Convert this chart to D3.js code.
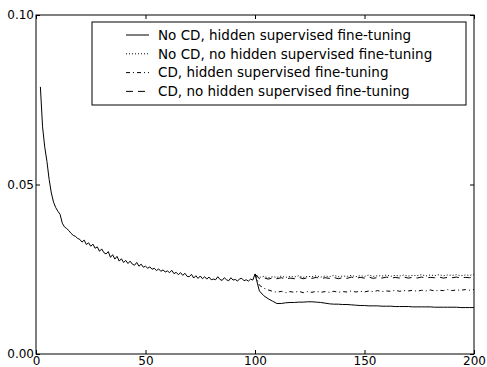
<!DOCTYPE html>
<html>
<head>
<meta charset="utf-8">
<script src="https://cdn.jsdelivr.net/npm/d3@7"></script>
<style>
    body { margin: 0; background: #fff; }
    svg text { font-family: 'DejaVu Sans', sans-serif; fill: #000; }
</style>
</head>
<body>
<svg id="chart"></svg>
<script>
'use strict';

/*
    Data
*/

// Shared curve, epochs 2..100 (before the runs split)
const SHARED_START = 2;
const SHARED_VALUES = [
    0.0788, 0.0670, 0.0610, 0.0568, 0.0515, 0.0475, 0.0448, 0.0432, 0.0421, 0.0412,
    0.0386, 0.0375, 0.0370, 0.0364, 0.0356, 0.0350, 0.0347, 0.0341, 0.0338, 0.0330,
    0.0336, 0.0323, 0.0328, 0.0318, 0.0324, 0.0312, 0.0316, 0.0303, 0.0310, 0.0299,
    0.0295, 0.0302, 0.0285, 0.0293, 0.0280, 0.0288, 0.0274, 0.0281, 0.0270, 0.0276,
    0.0267, 0.0274, 0.0265, 0.0262, 0.0270, 0.0259, 0.0265, 0.0256, 0.0259, 0.0253,
    0.0257, 0.0250, 0.0253, 0.0246, 0.0251, 0.0244, 0.0248, 0.0242, 0.0245, 0.0240,
    0.0247, 0.0237, 0.0241, 0.0234, 0.0240, 0.0232, 0.0238, 0.0229, 0.0228, 0.0235,
    0.0224, 0.0231, 0.0223, 0.0230, 0.0222, 0.0228, 0.0221, 0.0227, 0.0219, 0.0221,
    0.0219, 0.0228, 0.0220, 0.0217, 0.0225, 0.0219, 0.0216, 0.0225, 0.0218, 0.0220,
    0.0215, 0.0222, 0.0223, 0.0216, 0.0219, 0.0215, 0.0221, 0.0218, 0.0236
];

// Split curves, epochs 100..200 every 2 epochs
const LATE_START = 100;
const LATE_STEP  = 2;

const NOCD_HIDDEN = [
    0.0236, 0.0186, 0.0172, 0.0163, 0.0156, 0.0149, 0.0149, 0.0151, 0.0152, 0.0152,
    0.0153, 0.0153, 0.0154, 0.0154, 0.0153, 0.0152, 0.0150, 0.0148, 0.0147, 0.0147,
    0.0146, 0.0146, 0.0145, 0.0144, 0.0143, 0.0143, 0.0142, 0.0142, 0.0142, 0.0141,
    0.0141, 0.0141, 0.0140, 0.0140, 0.0140, 0.0140, 0.0139, 0.0139, 0.0139, 0.0139,
    0.0139, 0.0138, 0.0138, 0.0138, 0.0138, 0.0138, 0.0138, 0.0137, 0.0137, 0.0137,
    0.0137
];

const NOCD_NOHIDDEN = [
    0.0236, 0.0226, 0.0229, 0.0225, 0.0228, 0.0226, 0.0230, 0.0226, 0.0229, 0.0227,
    0.0231, 0.0226, 0.0229, 0.0228, 0.0231, 0.0227, 0.0230, 0.0228, 0.0232, 0.0228,
    0.0230, 0.0229, 0.0232, 0.0228, 0.0231, 0.0229, 0.0233, 0.0229, 0.0231, 0.0230,
    0.0233, 0.0229, 0.0232, 0.0230, 0.0233, 0.0230, 0.0232, 0.0231, 0.0234, 0.0230,
    0.0233, 0.0231, 0.0234, 0.0231, 0.0233, 0.0232, 0.0234, 0.0231, 0.0233, 0.0232,
    0.0234
];

const CD_HIDDEN = [
    0.0236, 0.0203, 0.0194, 0.0189, 0.0185, 0.0182, 0.0185, 0.0181, 0.0184, 0.0182,
    0.0185, 0.0181, 0.0184, 0.0182, 0.0185, 0.0182, 0.0184, 0.0182, 0.0185, 0.0182,
    0.0184, 0.0183, 0.0186, 0.0183, 0.0185, 0.0183, 0.0186, 0.0184, 0.0187, 0.0184,
    0.0186, 0.0185, 0.0188, 0.0185, 0.0187, 0.0186, 0.0188, 0.0185, 0.0188, 0.0186,
    0.0189, 0.0186, 0.0188, 0.0187, 0.0190, 0.0187, 0.0189, 0.0188, 0.0190, 0.0188,
    0.0190
];

const CD_NOHIDDEN = [
    0.0236, 0.0222, 0.0225, 0.0221, 0.0224, 0.0222, 0.0225, 0.0221, 0.0224, 0.0222,
    0.0226, 0.0222, 0.0225, 0.0223, 0.0226, 0.0222, 0.0225, 0.0223, 0.0226, 0.0222,
    0.0225, 0.0223, 0.0227, 0.0223, 0.0226, 0.0224, 0.0227, 0.0223, 0.0226, 0.0224,
    0.0227, 0.0223, 0.0226, 0.0224, 0.0227, 0.0224, 0.0226, 0.0224, 0.0227, 0.0224,
    0.0226, 0.0225, 0.0227, 0.0224, 0.0226, 0.0225, 0.0227, 0.0224, 0.0226, 0.0225,
    0.0227
];

const SERIES_LABELS = [
    'No CD, hidden supervised fine-tuning',
    'No CD, no hidden supervised fine-tuning',
    'CD, hidden supervised fine-tuning',
    'CD, no hidden supervised fine-tuning'
];

const X_TICKS = [0, 50, 100, 150, 200];
const Y_TICKS = [0, 0.05, 0.10];

/*
    Constants
*/

const WIDTH  = 487;
const HEIGHT = 367;

const MARGINS = Object.freeze({
    TOP    : 15,
    RIGHT  : 13,
    BOTTOM : 13,
    LEFT   : 36
});

const PLOT = Object.freeze({
    WIDTH  : WIDTH  - MARGINS.LEFT - MARGINS.RIGHT,
    HEIGHT : HEIGHT - MARGINS.TOP  - MARGINS.BOTTOM
});

// dash pattern of each series, same order as the labels
const DASHES = [null, '1,2', '4,3,1,3', '7,5'];

const SVG = d3.select('#chart')
    .attr('width', WIDTH)
    .attr('height', HEIGHT);

const x = d3.scaleLinear().domain([0, 200]).range([0, PLOT.WIDTH]);
const y = d3.scaleLinear().domain([0, 0.10]).range([PLOT.HEIGHT, 0]);

/*
    Build series
*/

const shared = SHARED_VALUES.map((v, i) => ({ epoch: SHARED_START + i, value: v }));

function lateSeries(values) {
    return values.map((v, i) => ({ epoch: LATE_START + i * LATE_STEP, value: v }));
}

const SERIES = [
    shared.concat(lateSeries(NOCD_HIDDEN).slice(1)),
    lateSeries(NOCD_NOHIDDEN),
    lateSeries(CD_HIDDEN),
    lateSeries(CD_NOHIDDEN)
];

/*
    D3 code
*/

const g = SVG.append('g')
    .attr('transform', `translate(${MARGINS.LEFT},${MARGINS.TOP})`);

g.append('clipPath').attr('id', 'clip')
    .append('rect')
    .attr('width', PLOT.WIDTH)
    .attr('height', PLOT.HEIGHT);

const line = d3.line()
    .x(d => x(d.epoch))
    .y(d => y(d.value));

// draw later series first so the solid one stays on top
g.append('g')
    .attr('clip-path', 'url(#clip)')
    .selectAll('path')
    .data(SERIES.map((s, i) => ({ s, i })).reverse())
    .join('path')
      .attr('d', d => line(d.s))
      .attr('fill', 'none')
      .attr('stroke', '#000')
      .attr('stroke-width', 1)
      .attr('stroke-dasharray', d => DASHES[d.i]);

// Axes, ticks pointing inward on every side
function styleAxis(sel) {
    sel.select('.domain').remove();
    sel.selectAll('line').attr('stroke', '#000');
    sel.selectAll('text').attr('fill', '#000')
        .style('font-family', "'DejaVu Sans', sans-serif")
        .style('font-size', '12px');
}

g.append('g')
    .attr('transform', `translate(0,${PLOT.HEIGHT})`)
    .call(d3.axisBottom(x).tickValues(X_TICKS).tickSize(-4).tickPadding(2)
        .tickFormat(d3.format('d')))
    .call(styleAxis);

g.append('g')
    .call(d3.axisTop(x).tickValues(X_TICKS).tickSize(-4).tickFormat(''))
    .call(styleAxis);

g.append('g')
    .call(d3.axisLeft(y).tickValues(Y_TICKS).tickSize(-4).tickPadding(2)
        .tickFormat(d3.format('.2f')))
    .call(styleAxis);

g.append('g')
    .attr('transform', `translate(${PLOT.WIDTH},0)`)
    .call(d3.axisRight(y).tickValues(Y_TICKS).tickSize(-4).tickFormat(''))
    .call(styleAxis);

// Frame
g.append('rect')
    .attr('width', PLOT.WIDTH)
    .attr('height', PLOT.HEIGHT)
    .attr('fill', 'none')
    .attr('stroke', '#000')
    .attr('stroke-width', 1);

/*
    Legend
*/

const LEGEND = Object.freeze({
    X      : 56,
    Y      : 7,
    WIDTH  : 374,
    HEIGHT : 83,
    ROW    : 18.8
});

const legend = g.append('g')
    .attr('transform', `translate(${LEGEND.X},${LEGEND.Y})`);

legend.append('rect')
    .attr('width', LEGEND.WIDTH)
    .attr('height', LEGEND.HEIGHT)
    .attr('fill', '#fff')
    .attr('stroke', '#000')
    .attr('stroke-width', 1);

const rows = legend.selectAll('g.row')
    .data(SERIES_LABELS)
    .join('g')
      .attr('class', 'row')
      .attr('transform', (d, i) => `translate(0,${13 + i * LEGEND.ROW})`);

rows.append('line')
    .attr('x1', 34).attr('x2', 57)
    .attr('stroke', '#000')
    .attr('stroke-width', 1)
    .attr('stroke-dasharray', (d, i) => DASHES[i]);

rows.append('text')
    .attr('x', 66)
    .attr('dy', '0.36em')
    .style('font-size', '13.5px')
    .text(d => d);
</script>
</body>
</html>
